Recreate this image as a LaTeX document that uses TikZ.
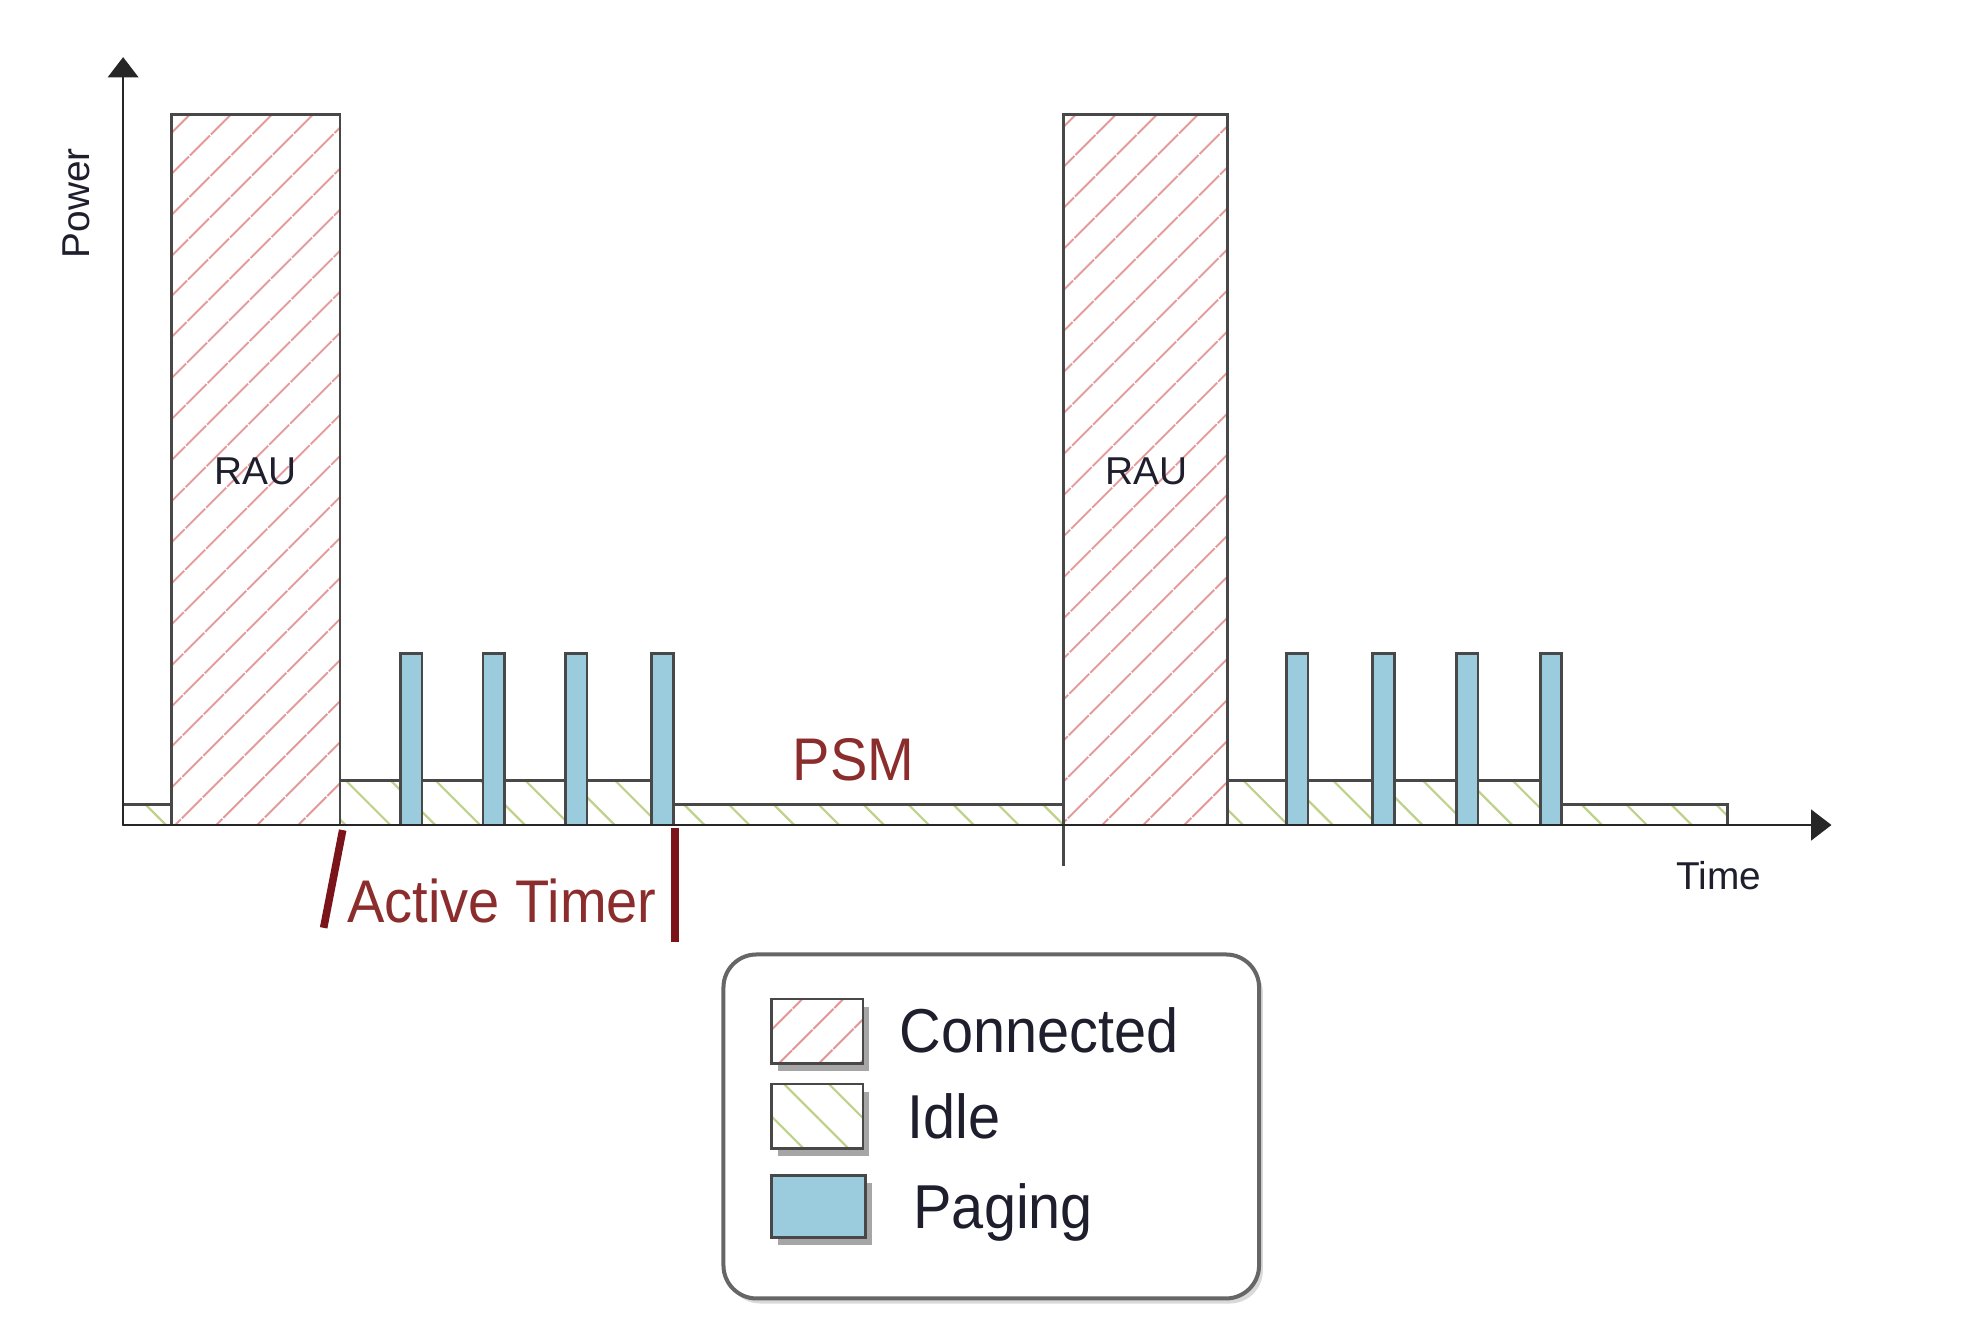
\documentclass[tikz,border=0pt]{standalone}
\usepackage{fontspec}
\setmainfont{Liberation Sans}
\newfontfamily\narrowsans[FakeStretch=0.93]{Liberation Sans}
\usetikzlibrary{patterns.meta,shadows,arrows.meta}
\definecolor{connred}{RGB}{226,150,150}
\definecolor{idlegreen}{RGB}{190,210,140}
\definecolor{pagingblue}{RGB}{155,204,221}
\definecolor{edgegray}{RGB}{72,72,72}
\definecolor{timerred}{RGB}{122,20,26}
\definecolor{labelred}{RGB}{140,45,45}
\definecolor{textdark}{RGB}{30,30,45}
\begin{document}
\begin{tikzpicture}[x=0.1mm,y=-0.1mm,
  connbox/.style={draw=edgegray,line width=0.6pt,pattern={Lines[angle=45,distance=2.35mm,line width=0.5pt]},pattern color=connred},
  idlebox/.style={draw=edgegray,line width=0.6pt,pattern={Lines[angle=-45,distance=2.5mm,line width=0.5pt]},pattern color=idlegreen},
  pagebox/.style={draw=edgegray,line width=0.6pt,fill=pagingblue},
  axisline/.style={draw=black!85,line width=0.6pt,-{Triangle[length=1.6mm,width=2.4mm]}},
  smalllabel/.style={inner sep=0pt,text=textdark,font=\fontsize{8.7}{10}\selectfont},
  biglabel/.style={inner sep=0pt,anchor=base west,font=\narrowsans\fontsize{13.5}{16}\selectfont},
  legendlabel/.style={inner sep=0pt,anchor=base west,text=textdark,font=\narrowsans\fontsize{13.9}{16}\selectfont},
  timermark/.style={draw=timerred,line width=1.7pt},
  swatchshadow/.style={fill=white,draw=none,drop shadow={shadow xshift=0.5mm,shadow yshift=-0.6mm,opacity=0.35,fill=black}}
]
\useasboundingbox (0,0) rectangle (1560,1049.5);

% idle (low) boxes
\path[idlebox] (97,634) rectangle (135,650);
\path[idlebox] (268,615) rectangle (522,650);
\path[idlebox] (530,634) rectangle (838,650);
\path[idlebox] (967,615) rectangle (1222,650);
\path[idlebox] (1230,634) rectangle (1361,650);

% connected (RAU) boxes
\path[connbox] (135,90) rectangle (268,650);
\path[connbox] (838,90) rectangle (967,650);

% paging bars
\foreach \c in {324,389,454,522}{
  \path[pagebox] (\c-8.5,515) rectangle (\c+8.5,650);
}
\foreach \c in {1022,1090,1156,1222}{
  \path[pagebox] (\c-8.5,515) rectangle (\c+8.5,650);
}

% tick under second RAU
\coordinate (tickTop) at (838,650);
\coordinate (tickBot) at (838,682);
\draw[edgegray,line width=0.6pt] (tickTop) -- (tickBot);

% axes
\coordinate (origin) at (97,650);
\coordinate (ytip) at (97,45);
\coordinate (xtip) at (1443,650);
\draw[axisline] (origin) -- (ytip);
\draw[axisline] (origin) -- (xtip);

% labels
\node[smalllabel,rotate=90] (power) at (60,160) {Power};
\node[smalllabel] (rau1) at (201,371) {RAU};
\node[smalllabel] (rau2) at (903,371) {RAU};
\node[smalllabel] (time) at (1354,690) {Time};
\node[biglabel,text=labelred] (psm) at (624,615) {PSM};
\node[biglabel,text=labelred] (timer) at (273,727) {Active Timer};

% active timer marks
\coordinate (tmA1) at (270,654);
\coordinate (tmA2) at (255,731);
\coordinate (tmB1) at (532,652);
\coordinate (tmB2) at (532,742);
\draw[timermark] (tmA1) -- (tmA2);
\draw[timermark] (tmB1) -- (tmB2);

% legend
\draw[draw=black!60,line width=0.9pt,rounded corners=2.6mm,fill=white,
      drop shadow={shadow xshift=0.3mm,shadow yshift=-0.4mm,opacity=0.15,fill=black}]
  (570,752) rectangle (992,1023);
\path[swatchshadow] (608,787) rectangle (680,838);
\path[connbox] (608,787) rectangle (680,838);
\path[swatchshadow] (608,854) rectangle (680,905);
\path[idlebox] (608,854) rectangle (680,905);
\path[swatchshadow] (608,926) rectangle (682,975);
\path[pagebox] (608,926) rectangle (682,975);
\node[legendlabel] (lconn) at (708,829) {Connected};
\node[legendlabel] (lidle) at (714,897) {Idle};
\node[legendlabel] (lpag) at (719,968) {Paging};
\end{tikzpicture}
\end{document}
